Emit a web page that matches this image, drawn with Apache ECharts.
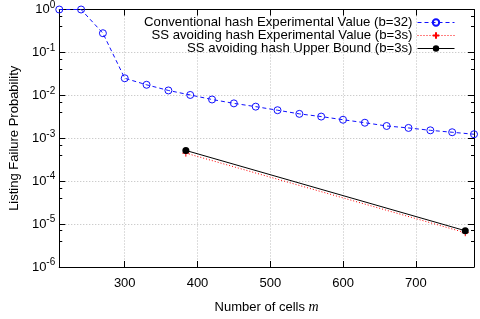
<!DOCTYPE html>
<html><head><meta charset="utf-8">
<script src="https://cdn.jsdelivr.net/npm/echarts@6/dist/echarts.min.js"></script>
<style>html,body{margin:0;padding:0;background:#fff}#c{width:480px;height:319px}</style>
</head><body><div id="c"></div>
<script>
// categories / x values (number of cells m)
const convX = [210,240,270,300,330,360,390,420,450,480,510,540,570,600,630,660,690,720,750,780];
const convY = [1,1,0.28,0.025,0.0176,0.013,0.0102,0.0080,0.0065,0.00545,0.0045,0.0037,0.0032,0.0027,0.0023,0.00193,0.00174,0.00153,0.00138,0.00124];
const ssX = [384,768];
const ssExpY = [4.5e-4,6.3e-6];
const ssBoundY = [5.2e-4,7.0e-6];
const xTicks = [300,400,500,600,700];
const seriesNames = [
  'Conventional hash Experimental Value (b=32)',
  'SS avoiding hash Experimental Value (b=3s)',
  'SS avoiding hash Upper Bound (b=3s)'
];

const FONT = 'Liberation Sans, Arial, Helvetica, sans-serif';
const pairs = (xs, ys) => xs.map((x, i) => [x, ys[i]]);
const chart = echarts.init(document.getElementById('c'), null, {renderer:'canvas'});

const ySup = {
  formatter: v => '{b|10}{s|' + Math.round(Math.log10(v)) + '}',
  rich: {
    b: {fontSize: 13, fontFamily: FONT, color: '#000', lineHeight: 13},
    s: {fontSize: 10, fontFamily: FONT, color: '#000', lineHeight: 10, padding: [0,0,9,0]}
  },
  margin: 4
};

const option = {
  animation: false,
  backgroundColor: '#fff',
  grid: {left: 51, right: 6, top: 8, bottom: 40, containLabel: false},
  legend: {
    orient: 'vertical', right: 20, top: 11, align: 'right',
    itemWidth: 37, itemHeight: 8, itemGap: 0,
    lineStyle: {width: 1},
    textStyle: {fontSize: 13.2, fontFamily: FONT, color: '#000', lineHeight: 12.7},
    data: seriesNames
  },
  xAxis: [{
    type: 'value', min: 210, max: 780, position: 'bottom',
    axisLine: {show: true, lineStyle: {color: '#000', width: 1}},
    axisTick: {show: true, inside: true, length: 6, customValues: xTicks, lineStyle: {color: '#000'}},
    axisLabel: {customValues: xTicks, color: '#000', fontSize: 13, fontFamily: FONT, margin: 10},
    splitLine: {show: true, lineStyle: {color: '#bbb', type: [1, 2]}},
    name: 'Number of cells {m|m}', nameLocation: 'middle', nameGap: 33,
    nameTextStyle: {fontSize: 13, fontFamily: FONT, color: '#000',
      rich: {m: {fontFamily: 'Liberation Serif, DejaVu Serif, serif', fontStyle: 'italic', fontSize: 14, color: '#000'}}}
  }, {
    type: 'value', min: 210, max: 780, position: 'top',
    axisLine: {show: true, lineStyle: {color: '#000', width: 1}},
    axisTick: {show: true, inside: true, length: 6, customValues: xTicks, lineStyle: {color: '#000'}},
    axisLabel: {show: false},
    splitLine: {show: false}
  }],
  yAxis: [{
    type: 'log', logBase: 10, min: 1e-6, max: 1, position: 'left',
    axisLine: {show: true, lineStyle: {color: '#000', width: 1}},
    axisTick: {show: true, inside: true, length: 6, lineStyle: {color: '#000'}},
    minorTick: {show: true, splitNumber: 3, length: 3, lineStyle: {color: '#000'}},
    axisLabel: ySup,
    splitLine: {show: true, lineStyle: {color: '#bbb', type: [1, 2]}},
    name: 'Listing Failure Probability', nameLocation: 'middle', nameGap: 33,
    nameTextStyle: {fontSize: 13, fontFamily: FONT, color: '#000'}
  }, {
    type: 'log', logBase: 10, min: 1e-6, max: 1, position: 'right',
    axisLine: {show: true, lineStyle: {color: '#000', width: 1}},
    axisTick: {show: true, inside: true, length: 6, lineStyle: {color: '#000'}},
    minorTick: {show: true, splitNumber: 3, length: 3, lineStyle: {color: '#000'}},
    axisLabel: {show: false},
    splitLine: {show: false}
  }],
  series: [{
    name: seriesNames[0], type: 'line', xAxisIndex: 0, yAxisIndex: 0,
    data: pairs(convX, convY),
    symbol: 'circle', symbolSize: 7,
    lineStyle: {color: '#1010ff', width: 1, type: [4, 3]},
    itemStyle: {color: 'rgba(255,255,255,0)', borderColor: '#1010ff', borderWidth: 1},
    z: 3
  }, {
    name: seriesNames[1], type: 'line', xAxisIndex: 0, yAxisIndex: 0,
    data: pairs(ssX, ssExpY),
    symbol: 'path://M0,5L10,5M5,0L5,10', symbolSize: 7,
    lineStyle: {color: '#ff0000', width: 1, type: [1, 2]},
    itemStyle: {color: '#ff0000', borderColor: '#ff0000', borderWidth: 1},
    z: 2
  }, {
    name: seriesNames[2], type: 'line', xAxisIndex: 0, yAxisIndex: 0,
    data: pairs(ssX, ssBoundY),
    symbol: 'circle', symbolSize: 7,
    lineStyle: {color: '#000', width: 1},
    itemStyle: {color: '#000'},
    z: 4
  }]
};
chart.setOption(option);
</script>
</body></html>
